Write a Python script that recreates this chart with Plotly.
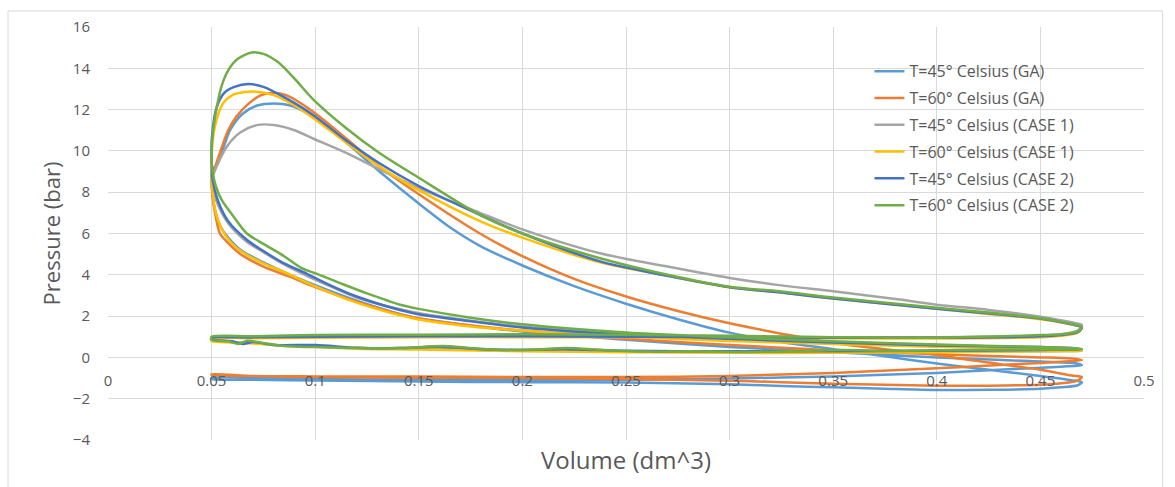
import plotly.graph_objects as go

# Pressure-volume cycles: each series is one closed loop (expansion, exhaust, intake, compression)
names = [
    "T=45° Celsius (GA)",
    "T=60° Celsius (GA)",
    "T=45° Celsius (CASE 1)",
    "T=60° Celsius (CASE 1)",
    "T=45° Celsius (CASE 2)",
    "T=60° Celsius (CASE 2)",
]
colors = ["#5B9BD5", "#ED7D31", "#A5A5A5", "#FFC000", "#4472C4", "#70AD47"]

# T=45 GA
v_ga45 = [0.050, 0.053, 0.0589, 0.065, 0.072, 0.080, 0.088, 0.099, 0.115, 0.131, 0.150, 0.165, 0.1795, 0.200, 0.225,
          0.250, 0.275, 0.300, 0.325, 0.350, 0.375, 0.400, 0.425, 0.450, 0.465, 0.470,
          0.468, 0.460, 0.450, 0.425, 0.400, 0.375, 0.350, 0.325, 0.300, 0.250, 0.200, 0.150, 0.100, 0.070, 0.050,
          0.050, 0.100, 0.150, 0.200, 0.250, 0.300, 0.350, 0.400, 0.440, 0.460, 0.470,
          0.468, 0.450, 0.400, 0.350, 0.300, 0.250, 0.200, 0.175, 0.147, 0.120, 0.100, 0.088, 0.075, 0.064, 0.058,
          0.054, 0.052, 0.0505, 0.050, 0.050]
p_ga45 = [9.0, 9.4, 11.0, 11.8, 12.2, 12.3, 12.2, 11.66, 10.4, 9.0, 7.45, 6.3, 5.4, 4.45, 3.45,
          2.6, 1.85, 1.2, 0.75, 0.4, 0.05, -0.3, -0.6, -0.9, -1.1, -1.2,
          -1.35, -1.45, -1.52, -1.57, -1.58, -1.52, -1.45, -1.38, -1.3, -1.22, -1.2, -1.17, -1.12, -1.08, -1.05,
          -1.0, -1.05, -1.08, -1.1, -1.08, -1.02, -0.92, -0.75, -0.55, -0.45, -0.38,
          -0.3, -0.2, 0.0, 0.25, 0.5, 0.85, 1.25, 1.55, 1.95, 2.75, 3.5, 4.0, 4.6, 5.2, 5.8,
          6.4, 7.0, 7.8, 8.5, 9.0]

# T=60 GA
v_ga60 = [0.052, 0.054, 0.058, 0.062, 0.068, 0.074, 0.080, 0.086, 0.099, 0.115, 0.131, 0.150, 0.1795, 0.200, 0.225,
          0.250, 0.275, 0.300, 0.325, 0.350, 0.375, 0.400, 0.425, 0.450, 0.465, 0.470,
          0.468, 0.460, 0.450, 0.425, 0.400, 0.375, 0.350, 0.325, 0.300, 0.250, 0.200, 0.150, 0.100, 0.070, 0.050,
          0.050, 0.070, 0.100, 0.150, 0.200, 0.250, 0.300, 0.350, 0.400, 0.430, 0.450, 0.465, 0.470,
          0.465, 0.450, 0.430, 0.400, 0.350, 0.300, 0.250, 0.200, 0.175, 0.147, 0.120, 0.0975, 0.088, 0.075, 0.064,
          0.0574, 0.054, 0.052, 0.0507, 0.0502, 0.052]
p_ga60 = [9.3, 9.9, 11.0, 11.66, 12.3, 12.7, 12.82, 12.7, 11.9, 10.6, 9.24, 7.9, 6.0, 4.9, 3.8,
          2.95, 2.25, 1.65, 1.15, 0.7, 0.4, 0.1, -0.25, -0.6, -0.88, -0.95,
          -1.12, -1.25, -1.32, -1.37, -1.37, -1.33, -1.27, -1.2, -1.13, -1.05, -1.0, -0.98, -0.95, -0.9, -0.85,
          -0.82, -0.9, -0.92, -0.93, -0.95, -0.95, -0.9, -0.75, -0.53, -0.37, -0.27, -0.18, -0.13,
          -0.05, 0.0, 0.05, 0.15, 0.35, 0.6, 0.9, 1.3, 1.55, 1.95, 2.7, 3.5, 3.9, 4.4, 5.0,
          5.6, 6.0, 6.8, 7.6, 8.6, 9.3]

# T=45 CASE 1
v_c1_45 = [0.051, 0.054, 0.058, 0.064, 0.0724, 0.080, 0.090, 0.099, 0.115, 0.131, 0.150, 0.1795, 0.200, 0.2375,
           0.270, 0.300, 0.324, 0.350, 0.382, 0.400, 0.425, 0.450, 0.465, 0.470,
           0.468, 0.460, 0.450, 0.400, 0.350, 0.300, 0.250, 0.200, 0.150, 0.100, 0.070, 0.050,
           0.050, 0.060, 0.070, 0.080, 0.100, 0.120, 0.150, 0.200, 0.250, 0.300, 0.350, 0.400, 0.450, 0.470,
           0.465, 0.450, 0.400, 0.350, 0.300, 0.250, 0.200, 0.175, 0.147, 0.120, 0.106, 0.096, 0.085, 0.075,
           0.067, 0.058, 0.053, 0.0505, 0.050, 0.051]
p_c1_45 = [8.9, 9.6, 10.3, 10.9, 11.26, 11.25, 11.0, 10.6, 9.9, 9.1, 8.2, 7.0, 6.2, 5.04,
           4.4, 3.85, 3.5, 3.2, 2.8, 2.55, 2.3, 1.97, 1.7, 1.57,
           1.3, 1.12, 1.05, 0.98, 0.98, 1.0, 1.02, 1.03, 1.02, 1.0, 0.98, 0.95,
           0.85, 0.75, 0.7, 0.6, 0.55, 0.45, 0.45, 0.35, 0.3, 0.28, 0.27, 0.28, 0.3, 0.33,
           0.42, 0.48, 0.6, 0.75, 0.93, 1.15, 1.5, 1.78, 2.2, 2.9, 3.5, 3.95, 4.5, 5.1,
           5.6, 6.5, 7.4, 8.2, 8.7, 8.9]

# T=60 CASE 1
v_c1_60 = [0.050, 0.0505, 0.0524, 0.0555, 0.060, 0.066, 0.0718, 0.080, 0.090, 0.099, 0.115, 0.131, 0.150, 0.1795,
           0.200, 0.2375, 0.270, 0.300, 0.324, 0.350, 0.400, 0.450, 0.465, 0.470,
           0.468, 0.460, 0.450, 0.400, 0.350, 0.300, 0.250, 0.200, 0.150, 0.100, 0.070, 0.050,
           0.050, 0.060, 0.070, 0.080, 0.100, 0.120, 0.150, 0.200, 0.250, 0.300, 0.350, 0.400, 0.450, 0.470,
           0.465, 0.450, 0.400, 0.350, 0.300, 0.250, 0.200, 0.175, 0.147, 0.120, 0.0975, 0.088, 0.075, 0.064,
           0.059, 0.055, 0.052, 0.0505, 0.050, 0.050]
p_c1_60 = [9.6, 10.5, 11.5, 12.3, 12.7, 12.85, 12.87, 12.7, 12.2, 11.6, 10.4, 9.24, 8.1, 6.6,
           5.8, 4.6, 3.95, 3.4, 3.15, 2.85, 2.35, 1.85, 1.6, 1.45,
           1.2, 1.05, 0.98, 0.92, 0.93, 0.95, 0.97, 0.98, 0.98, 0.95, 0.93, 0.9,
           0.8, 0.72, 0.68, 0.6, 0.52, 0.42, 0.38, 0.3, 0.25, 0.22, 0.22, 0.25, 0.3, 0.33,
           0.4, 0.43, 0.52, 0.65, 0.8, 1.0, 1.3, 1.5, 1.9, 2.65, 3.55, 4.0, 4.55, 5.15,
           5.6, 6.2, 7.0, 8.0, 8.8, 9.6]

# T=45 CASE 2
v_c2_45 = [0.050, 0.0502, 0.0524, 0.056, 0.061, 0.0678, 0.075, 0.085, 0.099, 0.115, 0.131, 0.150, 0.1795, 0.200,
           0.2375, 0.270, 0.300, 0.324, 0.350, 0.400, 0.450, 0.465, 0.470,
           0.468, 0.460, 0.450, 0.400, 0.350, 0.300, 0.250, 0.200, 0.150, 0.100, 0.070, 0.050,
           0.050, 0.060, 0.065, 0.070, 0.080, 0.100, 0.120, 0.140, 0.160, 0.180, 0.200, 0.220, 0.250, 0.300,
           0.350, 0.400, 0.450, 0.470,
           0.465, 0.450, 0.400, 0.350, 0.300, 0.250, 0.200, 0.175, 0.147, 0.120, 0.106, 0.096, 0.085, 0.075,
           0.067, 0.058, 0.053, 0.0505, 0.050]
p_c2_45 = [9.8, 10.7, 12.1, 12.8, 13.1, 13.24, 13.1, 12.6, 11.74, 10.5, 9.4, 8.3, 6.9, 6.0,
           4.65, 3.95, 3.4, 3.15, 2.85, 2.35, 1.88, 1.6, 1.45,
           1.22, 1.08, 1.02, 0.95, 0.95, 0.97, 1.0, 1.02, 1.02, 1.0, 0.97, 0.95,
           0.88, 0.78, 0.65, 0.75, 0.6, 0.6, 0.47, 0.45, 0.52, 0.4, 0.36, 0.4, 0.32, 0.3,
           0.3, 0.32, 0.36, 0.4,
           0.45, 0.5, 0.58, 0.72, 0.9, 1.1, 1.45, 1.75, 2.15, 2.95, 3.55, 4.05, 4.55, 5.15,
           5.7, 6.6, 7.6, 8.6, 9.8]

# T=60 CASE 2
v_c2_60 = [0.050, 0.0505, 0.0517, 0.0547, 0.058, 0.0625, 0.0693, 0.075, 0.082, 0.090, 0.099, 0.115, 0.131, 0.150,
           0.1795, 0.200, 0.2375, 0.270, 0.300, 0.324, 0.350, 0.400, 0.450, 0.465, 0.470,
           0.468, 0.460, 0.450, 0.400, 0.350, 0.300, 0.250, 0.200, 0.150, 0.100, 0.070, 0.050,
           0.050, 0.058, 0.063, 0.067, 0.075, 0.085, 0.100, 0.120, 0.141, 0.1617, 0.175, 0.189, 0.205, 0.2215,
           0.240, 0.2616, 0.280, 0.305, 0.330, 0.353, 0.380, 0.410, 0.440, 0.470,
           0.465, 0.450, 0.400, 0.350, 0.300, 0.250, 0.200, 0.175, 0.150, 0.141, 0.125, 0.112, 0.102, 0.093,
           0.085, 0.075, 0.067, 0.060, 0.055, 0.052, 0.0505, 0.050]
p_c2_60 = [9.8, 10.8, 11.66, 13.1, 13.9, 14.45, 14.77, 14.7, 14.3, 13.5, 12.5, 11.1, 9.9, 8.7,
           6.9, 6.0, 4.8, 4.0, 3.42, 3.2, 2.9, 2.4, 1.9, 1.62, 1.47,
           1.25, 1.12, 1.08, 0.95, 0.98, 1.05, 1.1, 1.12, 1.1, 1.08, 1.02, 1.0,
           0.85, 0.78, 0.65, 0.8, 0.7, 0.55, 0.5, 0.45, 0.45, 0.55, 0.45, 0.36, 0.38, 0.45,
           0.35, 0.28, 0.3, 0.26, 0.3, 0.36, 0.32, 0.36, 0.38, 0.4,
           0.45, 0.5, 0.62, 0.78, 0.97, 1.2, 1.6, 1.92, 2.35, 2.55, 3.1, 3.6, 4.0, 4.35,
           4.9, 5.5, 6.0, 6.9, 7.6, 8.3, 9.0, 9.8]

volumes = [v_ga45, v_ga60, v_c1_45, v_c1_60, v_c2_45, v_c2_60]
pressures = [p_ga45, p_ga60, p_c1_45, p_c1_60, p_c2_45, p_c2_60]

x_ticks = [0, 0.05, 0.1, 0.15, 0.2, 0.25, 0.3, 0.35, 0.4, 0.45, 0.5]
y_ticks = [-4, -2, 0, 2, 4, 6, 8, 10, 12, 14, 16]

FONT = "'Open Sans', Lato, sans-serif"
TEXT = "#595959"
GRID = "#D9D9D9"

fig = go.Figure()
for name, color, v, p in zip(names, colors, volumes, pressures):
    fig.add_trace(go.Scatter(
        x=v, y=p, name=name, mode="lines", legendgroup=name,
        line=dict(color=color, width=2.5, shape="spline", smoothing=0.8),
    ))

fig.update_layout(
    width=1175, height=487,
    margin=dict(l=108, r=31, t=27, b=47),
    paper_bgcolor="white", plot_bgcolor="white",
    font=dict(family=FONT, color=TEXT),
    showlegend=True,
    legend=dict(
        x=0.735, y=0.934, xanchor="left", yanchor="top",
        bgcolor="rgba(0,0,0,0)", font=dict(size=16, color=TEXT),
        tracegroupgap=3,
    ),
    xaxis=dict(
        range=[0, 0.5], tickvals=x_ticks, ticktext=[f"{t:g}" for t in x_ticks],
        showgrid=True, gridcolor=GRID, gridwidth=1.3, zeroline=False,
        showline=False, anchor="free", position=0.2,
        ticks="outside", ticklen=10, tickcolor="rgba(0,0,0,0)",
        tickfont=dict(size=15, color=TEXT),
    ),
    yaxis=dict(
        range=[-4, 16], tickvals=y_ticks,
        showgrid=True, gridcolor=GRID, gridwidth=1.3, zeroline=False,
        showline=False, ticks="outside", ticklen=14, tickcolor="rgba(0,0,0,0)",
        tickfont=dict(size=15, color=TEXT),
        title=dict(text="Pressure (bar)", font=dict(size=22, color=TEXT), standoff=6),
    ),
    annotations=[dict(
        text="Volume (dm^3)", x=0.5, y=-0.048, xref="paper", yref="paper",
        xanchor="center", yanchor="middle", showarrow=False,
        font=dict(size=24, color=TEXT),
    )],
    shapes=[dict(
        type="rect", xref="paper", yref="paper",
        x0=-0.0965, x1=1.018, y0=-0.13, y1=1.0387,
        line=dict(color=GRID, width=1), fillcolor="rgba(0,0,0,0)", layer="below",
    )],
)

fig.write_html("out.html")
